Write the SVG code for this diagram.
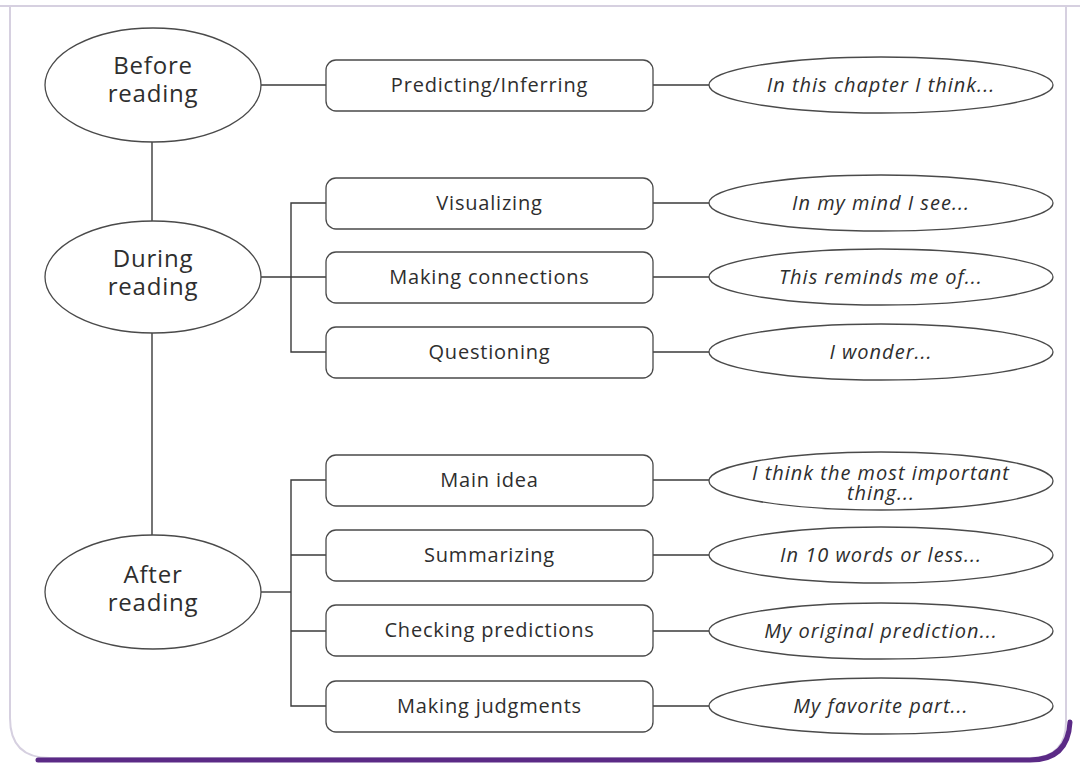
<svg xmlns="http://www.w3.org/2000/svg" width="1080" height="767" viewBox="0 0 1080 767">
<defs>
<style>
.bg{fill:#ffffff}
.frame{fill:none;stroke:#d6d0e0;stroke-width:2}
.shadow{fill:none;stroke:#5b2a86;stroke-width:5;stroke-linecap:round}
.stage{fill:#ffffff;stroke:#4a4a4a;stroke-width:1.3}
.box{fill:#ffffff;stroke:#4a4a4a;stroke-width:1.3}
.say{fill:#ffffff;stroke:#4a4a4a;stroke-width:1.3}
.conn{fill:none;stroke:#3a3a3a;stroke-width:1.4}
.t1{font-family:"Open Sans","Liberation Sans",sans-serif;font-size:24px;letter-spacing:0.8px;fill:#2e2e2e;text-anchor:middle}
.t2{font-family:"Open Sans","Liberation Sans",sans-serif;font-size:20px;letter-spacing:0.8px;fill:#2e2e2e;text-anchor:middle}
.t3{font-family:"Open Sans","Liberation Sans",sans-serif;font-size:20px;letter-spacing:1px;font-style:italic;fill:#2e2e2e;text-anchor:middle}
</style>
</defs>
<rect class="bg" x="0" y="0" width="1080" height="767"/>
<g id="frame">
<path class="frame" d="M0,6 H1080 M10,6 V718 Q10,758 50,758 H1030 Q1066,758 1066,722 V6"/>
<path class="shadow" d="M38,760 H1030 Q1068,760 1070,722"/>
</g>
<g id="connectors">
<line class="conn" x1="152" y1="142" x2="152" y2="221"/>
<line class="conn" x1="152" y1="333" x2="152" y2="535"/>
<line class="conn" x1="261" y1="85" x2="326" y2="85"/>
<line class="conn" x1="261" y1="277" x2="326" y2="277"/>
<polyline class="conn" points="326,203 291,203 291,352 326,352"/>
<line class="conn" x1="261" y1="592" x2="291" y2="592"/>
<polyline class="conn" points="326,480 291,480 291,706 326,706"/>
<line class="conn" x1="291" y1="555" x2="326" y2="555"/>
<line class="conn" x1="291" y1="631" x2="326" y2="631"/>
<line class="conn" x1="653" y1="85" x2="709" y2="85"/>
<line class="conn" x1="653" y1="203" x2="709" y2="203"/>
<line class="conn" x1="653" y1="277" x2="709" y2="277"/>
<line class="conn" x1="653" y1="352" x2="709" y2="352"/>
<line class="conn" x1="653" y1="480" x2="709" y2="480"/>
<line class="conn" x1="653" y1="555" x2="709" y2="555"/>
<line class="conn" x1="653" y1="631" x2="709" y2="631"/>
<line class="conn" x1="653" y1="706" x2="709" y2="706"/>
</g>
<g id="before-reading">
<ellipse class="stage" cx="153" cy="85" rx="108" ry="57"/>
<text class="t1" x="153" y="74">Before</text>
<text class="t1" x="153" y="102">reading</text>
</g>
<g id="during-reading">
<ellipse class="stage" cx="153" cy="277" rx="108" ry="56"/>
<text class="t1" x="153" y="267">During</text>
<text class="t1" x="153" y="295">reading</text>
</g>
<g id="after-reading">
<ellipse class="stage" cx="153" cy="592" rx="108" ry="57"/>
<text class="t1" x="153" y="583">After</text>
<text class="t1" x="153" y="611">reading</text>
</g>
<g id="predicting">
<rect class="box" x="326" y="60" width="327" height="51" rx="10"/>
<text class="t2" x="489.5" y="92">Predicting/Inferring</text>
</g>
<g id="visualizing">
<rect class="box" x="326" y="178" width="327" height="51" rx="10"/>
<text class="t2" x="489.5" y="210">Visualizing</text>
</g>
<g id="making-connections">
<rect class="box" x="326" y="252" width="327" height="51" rx="10"/>
<text class="t2" x="489.5" y="284">Making connections</text>
</g>
<g id="questioning">
<rect class="box" x="326" y="327" width="327" height="51" rx="10"/>
<text class="t2" x="489.5" y="359">Questioning</text>
</g>
<g id="main-idea">
<rect class="box" x="326" y="455" width="327" height="51" rx="10"/>
<text class="t2" x="489.5" y="487">Main idea</text>
</g>
<g id="summarizing">
<rect class="box" x="326" y="530" width="327" height="51" rx="10"/>
<text class="t2" x="489.5" y="562">Summarizing</text>
</g>
<g id="checking-predictions">
<rect class="box" x="326" y="605" width="327" height="51" rx="10"/>
<text class="t2" x="489.5" y="637">Checking predictions</text>
</g>
<g id="making-judgments">
<rect class="box" x="326" y="681" width="327" height="51" rx="10"/>
<text class="t2" x="489.5" y="713">Making judgments</text>
</g>
<g id="say-predicting">
<ellipse class="say" cx="881" cy="85" rx="172" ry="28"/>
<text class="t3" x="881" y="92">In this chapter I think...</text>
</g>
<g id="say-visualizing">
<ellipse class="say" cx="881" cy="203" rx="172" ry="28"/>
<text class="t3" x="881" y="210">In my mind I see...</text>
</g>
<g id="say-connections">
<ellipse class="say" cx="881" cy="277" rx="172" ry="28"/>
<text class="t3" x="881" y="284">This reminds me of...</text>
</g>
<g id="say-questioning">
<ellipse class="say" cx="881" cy="352" rx="172" ry="28"/>
<text class="t3" x="881" y="359">I wonder...</text>
</g>
<g id="say-main-idea">
<ellipse class="say" cx="881" cy="481" rx="172" ry="29"/>
<text class="t3" x="881" y="480">I think the most important</text>
<text class="t3" x="881" y="500">thing...</text>
</g>
<g id="say-summarizing">
<ellipse class="say" cx="881" cy="555" rx="172" ry="28"/>
<text class="t3" x="881" y="562">In 10 words or less...</text>
</g>
<g id="say-checking">
<ellipse class="say" cx="881" cy="631" rx="172" ry="28"/>
<text class="t3" x="881" y="638">My original prediction...</text>
</g>
<g id="say-judgments">
<ellipse class="say" cx="881" cy="706" rx="172" ry="28"/>
<text class="t3" x="881" y="713">My favorite part...</text>
</g>
</svg>
